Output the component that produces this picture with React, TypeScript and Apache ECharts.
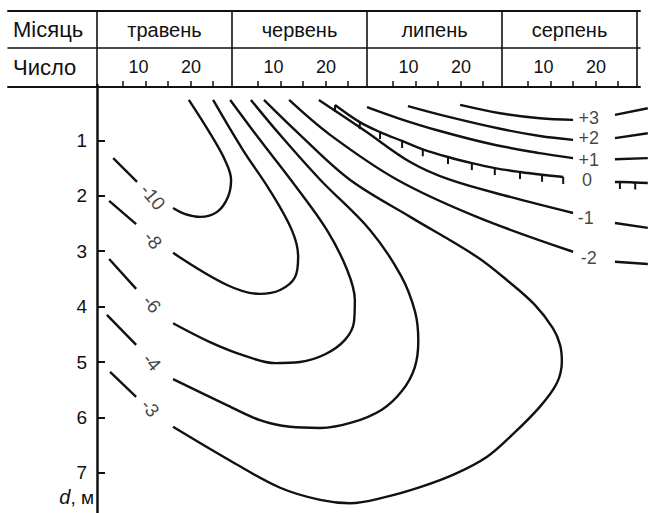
import { useEffect, useRef } from "react";
import * as echarts from "echarts";

// Calendar header
const months = ["травень", "червень", "липень", "серпень"];
const dayTicks = [5, 10, 15, 20, 25];
const dayLabels = [10, 20];
const rowHeads = ["Місяць", "Число"];
const depthTicks = [1, 2, 3, 4, 5, 6, 7];

// Isotherm traces: [time since 1 May (30 units per month), depth, m]
const isoM10 = [[20.4, 0.27], [25.1, 0.87], [28.4, 1.35], [29.8, 1.71], [29.1, 2.02], [26.7, 2.29], [22.9, 2.38], [19.6, 2.33], [16.9, 2.22]];
const isoM10Lead = [[3.6, 1.32], [8.9, 1.75]];
const isoM8 = [[25.8, 0.27], [32.4, 1.17], [38.4, 1.9], [43.3, 2.62], [44.7, 3.1], [44.0, 3.47], [40.7, 3.7], [36.2, 3.77], [28.9, 3.61], [16.9, 3.03]];
const isoM8Lead = [[2.7, 2.09], [8.7, 2.51]];
const isoM6 = [[29.6, 0.27], [36.2, 0.99], [43.6, 1.77], [51.1, 2.62], [55.6, 3.34], [57.3, 3.88], [57.1, 4.28], [55.1, 4.6], [50.7, 4.86], [45.1, 5.0], [39.6, 5.02], [32.9, 4.89], [25.1, 4.64], [16.9, 4.3]];
const isoM6Lead = [[2.7, 3.14], [8.7, 3.68]];
const isoM4 = [[34.2, 0.27], [41.1, 0.94], [49.6, 1.71], [60.7, 2.62], [67.6, 3.45], [70.7, 4.1], [71.4, 4.62], [70.6, 5.1], [67.8, 5.52], [63.3, 5.86], [56.7, 6.09], [49.6, 6.19], [42.9, 6.17], [36.2, 6.05], [28.4, 5.76], [16.9, 5.31]];
const isoM4Lead = [[2.2, 4.15], [8.7, 4.69]];
const isoM3 = [[37.1, 0.27], [45.1, 0.9], [56.2, 1.71], [69.6, 2.38], [84.4, 3.1], [91.8, 3.57], [97.3, 3.97], [101.3, 4.39], [102.9, 4.69], [103.3, 4.99], [102.2, 5.38], [98.4, 5.81], [92.2, 6.32], [86.7, 6.71], [79.6, 7.02], [71.8, 7.26], [64.0, 7.44], [56.2, 7.55], [49.6, 7.49], [40.7, 7.27], [30.2, 6.81], [16.9, 6.17]];
const isoM3Lead = [[2.9, 5.18], [8.7, 5.63]];
const isoM2 = [[42.7, 0.27], [51.8, 0.9], [66.7, 1.71], [84.4, 2.38], [105.8, 3.01]];
const isoM2Tail = [[115.1, 3.19], [122.4, 3.23]];
const isoM1 = [[49.3, 0.27], [59.6, 0.83], [69.6, 1.39], [78.4, 1.71], [91.8, 2.02], [105.8, 2.31]];
const isoM1Tail = [[115.1, 2.49], [122.4, 2.58]];
const iso0 = [[52.9, 0.36], [58.4, 0.67], [62.9, 0.85], [67.8, 1.01], [72.4, 1.16], [78.0, 1.3], [83.3, 1.41], [88.4, 1.5], [94.0, 1.57], [98.9, 1.62], [103.6, 1.66]];
const iso0Tail = [[115.1, 1.75], [116.2, 1.75], [119.6, 1.76], [122.4, 1.77]];
const isoP1 = [[60.0, 0.4], [67.3, 0.61], [76.2, 0.83], [87.3, 1.06], [98.4, 1.23], [105.8, 1.32]];
const isoP1Tail = [[115.1, 1.34], [122.4, 1.32]];
const isoP2 = [[69.1, 0.38], [78.4, 0.58], [89.6, 0.79], [98.4, 0.92], [105.8, 0.99]];
const isoP2Tail = [[115.1, 0.96], [122.4, 0.87]];
const isoP3 = [[80.7, 0.36], [89.6, 0.51], [98.4, 0.6], [105.8, 0.63]];
const isoP3Tail = [[115.1, 0.54], [122.4, 0.42]];

// Isotherm captions and where they sit
const leftCaptions = ["-10", "-8", "-6", "-4", "-3"];
const leftCaptionAt = [[12.4, 2.02], [12.4, 2.8], [12.2, 3.95], [12.2, 5.0], [11.8, 5.83]];
const rightCaptions = ["+3", "+2", "+1", "0", "-1", "-2"];
const rightCaptionAt = [[109.3, 0.6], [109.3, 0.96], [109.3, 1.35], [108.9, 1.71], [108.6, 2.4], [109.3, 3.12]];

const INK = "#111";
const FONT = "'Liberation Sans', Arial, sans-serif";
const MONTH = 30;
const PX_PER_UNIT = 4.5;
const PX_PER_M = 55.4;
const PLOT_LEFT = 97;
const PLOT_TOP = 85;
const W = 648;
const H = 513;

const plainCurves = [
  isoM10, isoM10Lead, isoM8, isoM8Lead, isoM6, isoM6Lead, isoM4, isoM4Lead,
  isoM3, isoM3Lead, isoM2, isoM2Tail, isoM1, isoM1Tail,
  isoP1, isoP1Tail, isoP2, isoP2Tail, isoP3, isoP3Tail,
];

function buildOption() {
  const xMax = (W - PLOT_LEFT) / PX_PER_UNIT;
  const yMax = (H - PLOT_TOP) / PX_PER_M;
  const hdrMin = (8 - PLOT_LEFT) / PX_PER_UNIT;
  const hdrMax = (640 - PLOT_LEFT) / PX_PER_UNIT;
  const separators = [0, 1, 2, 3, 4].map((m) => m * MONTH);
  const smallTicks: number[] = [];
  const dayLabelAt: number[] = [];
  const dayLabelText: Record<string, string> = {};
  months.forEach((_, m) => {
    dayTicks.forEach((d) => smallTicks.push(m * MONTH + d + 0.8));
    dayLabels.forEach((d) => {
      const pos = m * MONTH + (d === 10 ? 9.2 : 20.9);
      dayLabelAt.push(pos);
      dayLabelText[pos.toFixed(2)] = String(d);
    });
  });
  const monthAt = months.map((_, m) => m * MONTH + MONTH / 2);

  const hdrX = (grid: number, position: string, extra: any) => ({
    gridIndex: grid,
    type: "value",
    position,
    min: hdrMin,
    max: hdrMax,
    splitLine: { show: false },
    axisLine: { show: false },
    axisTick: { show: false },
    axisLabel: { show: false },
    ...extra,
  });
  const hdrY = (grid: number, head: string, size: number) => ({
    gridIndex: grid,
    type: "category",
    data: [head],
    position: "left",
    axisLine: { show: false },
    axisTick: { show: false },
    splitLine: { show: false },
    axisLabel: { show: true, inside: true, margin: 5, color: INK, fontFamily: FONT, fontSize: size },
  });

  const textStyle = { color: INK, fontFamily: FONT, fontSize: 17 };
  const rule = (width: number) => ({ show: true, lineStyle: { color: INK, width } });

  const curveSeries = plainCurves.map((data) => ({
    type: "line",
    xAxisIndex: 0,
    yAxisIndex: 0,
    data,
    smooth: 0.35,
    symbol: "none",
    silent: true,
    lineStyle: { color: INK, width: 2.4 },
    z: 3,
  }));

  const frostSeries = [iso0, iso0Tail].map((data, k) => ({
    type: "line",
    xAxisIndex: 0,
    yAxisIndex: 0,
    data: data.map((p, i) => ({
      value: p,
      symbol: k === 1 && (i === 0 || i === data.length - 1) ? "none" : "rect",
    })),
    smooth: 0.35,
    showSymbol: true,
    showAllSymbol: true,
    symbol: "rect",
    symbolSize: [2, 7],
    symbolOffset: [0, 3.5],
    itemStyle: { color: INK },
    silent: true,
    lineStyle: { color: INK, width: 2.4 },
    z: 3,
  }));

  const captionSeries = [
    {
      type: "scatter",
      xAxisIndex: 0,
      yAxisIndex: 0,
      symbolSize: 1,
      itemStyle: { color: "rgba(0,0,0,0)" },
      silent: true,
      data: leftCaptions.map((t, i) => ({ value: leftCaptionAt[i], name: t })),
      label: { show: true, position: "inside", formatter: "{b}", rotate: -50, ...textStyle, fontSize: 19 },
      z: 4,
    },
    {
      type: "scatter",
      xAxisIndex: 0,
      yAxisIndex: 0,
      symbolSize: 1,
      itemStyle: { color: "rgba(0,0,0,0)" },
      silent: true,
      data: rightCaptions.map((t, i) => ({ value: rightCaptionAt[i], name: t })),
      label: { show: true, position: "inside", formatter: "{b}", ...textStyle, fontSize: 18, lineHeight: 18 },
      z: 4,
    },
  ];

  return {
    animation: false,
    backgroundColor: "#fff",
    grid: [
      { left: PLOT_LEFT, right: 0, top: PLOT_TOP, bottom: 0 },
      { left: 8, right: W - 640, top: 11, height: 37 },
      { left: 8, right: W - 640, top: 48, height: 39 },
    ],
    xAxis: [
      { gridIndex: 0, type: "value", min: 0, max: xMax, show: false },
      // month row: top rule, middle rule with month separators and names
      hdrX(1, "top", { axisLine: rule(2) }),
      hdrX(1, "bottom", {
        axisLine: rule(1.6),
        axisTick: { show: true, inside: true, length: 37, customValues: separators, lineStyle: { color: INK, width: 1.6 } },
        axisLabel: {
          show: true, inside: true, margin: 18, verticalAlign: "middle", customValues: monthAt,
          formatter: (v: number) => months[Math.round((v - MONTH / 2) / MONTH)] ?? "",
          ...textStyle, fontSize: 20,
        },
      }),
      // day row: bottom rule with day ticks and numbers, separators from above
      hdrX(2, "bottom", {
        axisLine: rule(2),
        axisTick: { show: true, inside: true, length: 6, customValues: smallTicks, lineStyle: { color: INK, width: 1.5 } },
        axisLabel: {
          show: true, inside: true, margin: 20, verticalAlign: "middle", customValues: dayLabelAt,
          formatter: (v: number) => dayLabelText[v.toFixed(2)] ?? "", ...textStyle, fontSize: 18,
        },
      }),
      hdrX(2, "top", {
        axisTick: { show: true, inside: true, length: 39, customValues: separators, lineStyle: { color: INK, width: 1.6 } },
      }),
    ],
    yAxis: [
      {
        gridIndex: 0,
        type: "value",
        min: 0,
        max: yMax,
        inverse: true,
        splitLine: { show: false },
        axisLine: { show: true, lineStyle: { color: INK, width: 2.5 } },
        axisTick: { show: true, inside: true, length: 8, customValues: depthTicks, lineStyle: { color: INK, width: 2 } },
        axisLabel: { show: true, margin: 10, customValues: depthTicks, ...textStyle, fontSize: 19 },
        name: "{i|d}, м",
        nameLocation: "end",
        nameGap: -16,
        nameTextStyle: {
          ...textStyle,
          fontSize: 19,
          align: "right",
          verticalAlign: "middle",
          padding: [0, 3, 0, 0],
          rich: { i: { fontStyle: "italic", fontSize: 20, fontFamily: FONT, color: INK } },
        },
      },
      hdrY(1, rowHeads[0], 22),
      hdrY(2, rowHeads[1], 22),
    ],
    series: [...curveSeries, ...frostSeries, ...captionSeries],
  };
}

export default function App() {
  const ref = useRef<HTMLDivElement>(null);
  useEffect(() => {
    if (!ref.current) return;
    const chart = echarts.init(ref.current, undefined, { renderer: "svg" });
    chart.setOption(buildOption() as any);
    return () => chart.dispose();
  }, []);
  return (
    <div
      ref={ref}
      style={{ position: "absolute", left: 0, top: 0, width: W, height: H, background: "#fff" }}
    />
  );
}
